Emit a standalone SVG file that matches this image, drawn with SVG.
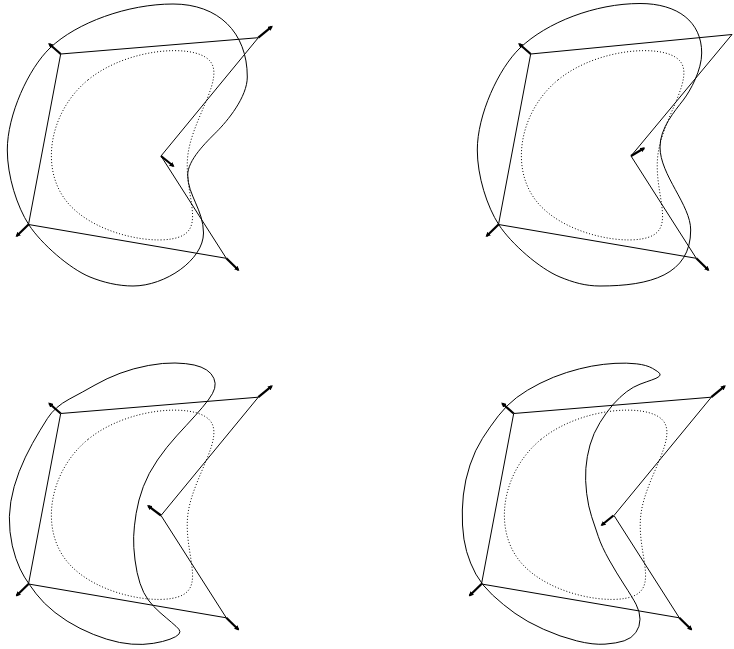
<svg xmlns="http://www.w3.org/2000/svg" width="734" height="649" viewBox="0 0 734 649">
<style>
.poly{fill:none;stroke:#000;stroke-width:1;stroke-linejoin:miter}
.curve{fill:none;stroke:#000;stroke-width:1}
.dot{fill:none;stroke:#000;stroke-width:1;stroke-dasharray:1 2}
.vec{stroke:#000;stroke-width:2.2;marker-end:url(#ah)}
</style>
<defs>
<marker id="ah" viewBox="0 0 5 5" markerWidth="5" markerHeight="5" refX="3.5" refY="2.5" orient="auto" markerUnits="userSpaceOnUse">
<path d="M0,0 L5,2.5 L0,5 Z" fill="#000"/>
</marker>
<path id="bspline" d="M88.27,79.7 C126.57,48.57 192.43,43.13 209.15,60.13 C225.87,77.13 193.43,116.57 188.1,153.33 C182.77,190.1 204.53,224.2 182.45,235.62 C160.37,247.03 94.43,235.77 66.83,201.72 C39.23,167.67 49.97,110.83 88.27,79.7 Z"/>
<polygon id="ctrl" points="60.7,54 258.3,37.7 161,156 226.3,258.3 28.5,224.5"/>
</defs>

<g id="panel1">
<g id="panel1-curves">
<use href="#bspline" class="dot"/>
<path class="curve" d="M50,48 C76.6,22.5 128,4 173,4 C218,4 247.3,32 247.3,77 C247.3,97 227.3,121.1 216.7,131.7 C206.1,142.3 187.7,160 187.7,175 C187.7,195 203.5,210 203.5,233 C203.5,260 165,286 133,286 C118,286 103,282.3 90,277 C69.6,268.7 41,243.4 29,225 C17,206.6 7.3,176 7.3,150 C7.3,115 28.4,68.7 50,48 Z"/>
</g>
<g id="panel1-connectors">
<use href="#ctrl" class="poly"/>
<line class="vec" x1="60.7" y1="54" x2="49.3" y2="44"/>
<line class="vec" x1="258.3" y1="37.7" x2="271.7" y2="26.7"/>
<line class="vec" x1="161" y1="156" x2="173.3" y2="166"/>
<line class="vec" x1="226.3" y1="258.3" x2="238.3" y2="270"/>
<line class="vec" x1="28.5" y1="224.5" x2="16.7" y2="236"/>
</g>
</g>

<g id="panel2" transform="translate(470,0)">
<g id="panel2-curves">
<use href="#bspline" class="dot"/>
<path class="curve" d="M50,48 C76.6,22.5 125,3.5 170,3.5 C208,3.5 231.7,22 231.7,53 C231.7,70 220.6,90.5 213.3,100 C204.8,111.1 190,128 190,147 C190,175 220.7,205 220.7,230 C220.7,275 180,286 130,286 C115,286 103,282.3 90,277 C69.6,268.7 41,243.4 29,225 C17,206.6 7.3,176 7.3,150 C7.3,115 28.4,68.7 50,48 Z"/>
</g>
<g id="panel2-connectors">
<polygon class="poly" points="60.7,54 262,34.5 161,156 226.3,258.3 28.5,224.5"/>
<line class="vec" x1="60.7" y1="54" x2="49.3" y2="44"/>
<line class="vec" x1="161" y1="156" x2="174" y2="148.3"/>
<line class="vec" x1="226.3" y1="258.3" x2="238.3" y2="270"/>
<line class="vec" x1="28.5" y1="224.5" x2="16.7" y2="236"/>
</g>
</g>

<g id="panel3" transform="translate(0,359.5)">
<g id="panel3-curves">
<use href="#bspline" class="dot"/>
<path class="curve" transform="translate(0,-19.5)" d="M175,23 Q163.3,22.7 148.3,25.5 Q133.3,28.3 120,33.3 Q106.7,38.3 95,45 Q83.3,51.7 69.15,59.2 Q55,66.7 47.5,78.35 Q40,90 32.5,103.35 Q25,116.7 19.15,131.7 Q13.3,146.7 10.8,161.7 Q8.3,176.7 10,191.7 Q11.7,206.7 15.85,218.35 Q20,230 24.5,237.15 Q29,244.3 36.15,253.8 Q43.3,263.3 55,272.5 Q66.7,281.7 80,288.35 Q93.3,295 106.65,299.15 Q120,303.3 131.65,304.15 Q143.3,305 153.3,303.35 Q163.3,301.7 170,299.2 Q176.7,296.7 178.85,294.2 Q181,291.7 178.85,289.2 Q176.7,286.7 171.7,282.5 Q166.7,278.3 160,272.5 Q153.3,266.7 148.3,260 Q143.3,253.3 140,243.3 Q136.7,233.3 135,220 Q133.3,206.7 133.65,196.7 Q134,186.7 136.15,173.35 Q138.3,160 143.3,146.65 Q148.3,133.3 157.5,120 Q166.7,106.7 176.7,95.85 Q186.7,85 195,75.85 Q203.3,66.7 208.3,60 Q213.3,53.3 214.65,48.3 Q216,43.3 213.85,38.3 Q211.7,33.3 206.7,30 Q201.7,26.7 194.2,25 Q186.7,23.3 175,23 Z"/>
</g>
<g id="panel3-connectors">
<use href="#ctrl" class="poly"/>
<line class="vec" x1="60.7" y1="54" x2="49.3" y2="44"/>
<line class="vec" x1="258.3" y1="37.7" x2="271.7" y2="26.7"/>
<line class="vec" x1="161" y1="156" x2="148.3" y2="146.5"/>
<line class="vec" x1="226.3" y1="258.3" x2="238.3" y2="270"/>
<line class="vec" x1="28.5" y1="224.5" x2="16.7" y2="236"/>
</g>
</g>

<g id="panel4" transform="translate(453,359.5)">
<g id="panel4-curves">
<use href="#bspline" class="dot"/>
<path class="curve" transform="translate(7,-19.5)" d="M155,23.35 Q166.7,22.7 176.7,23.85 Q186.7,25 192.5,28.35 Q198.3,31.7 199.65,33.35 Q201,35 198.85,36.65 Q196.7,38.3 191.7,40 Q186.7,41.7 180,44.2 Q173.3,46.7 166.65,51.7 Q160,56.7 153.35,64.2 Q146.7,71.7 140,82.5 Q133.3,93.3 130,105 Q126.7,116.7 125.85,128.35 Q125,140 126.65,153.35 Q128.3,166.7 131.65,176.7 Q135,186.7 138.35,196.7 Q141.7,206.7 149.2,220 Q156.7,233.3 164.35,245 Q172,256.7 176,264.2 Q180,271.7 180,279.2 Q180,286.7 175.85,292.5 Q171.7,298.3 164.2,300.8 Q156.7,303.3 145,304.15 Q133.3,305 116.65,300.85 Q100,296.7 83.35,289.2 Q66.7,281.7 55,273.35 Q43.3,265 32.5,255 Q21.7,245 15.85,234.15 Q10,223.3 6.65,211.65 Q3.3,200 2.5,185 Q1.7,170 3.35,155 Q5,140 10,125 Q15,110 22.5,98.35 Q30,86.7 38.35,75.85 Q46.7,65 56.7,57.5 Q66.7,50 80,43.35 Q93.3,36.7 106.65,32.5 Q120,28.3 131.65,26.15 Q143.3,24 155,23.35 Z"/>
</g>
<g id="panel4-connectors">
<use href="#ctrl" class="poly"/>
<line class="vec" x1="60.7" y1="54" x2="49.3" y2="44"/>
<line class="vec" x1="258.3" y1="37.7" x2="271.7" y2="26.7"/>
<line class="vec" x1="160.5" y1="156" x2="148.8" y2="165.5"/>
<line class="vec" x1="226.3" y1="258.3" x2="238.3" y2="270"/>
<line class="vec" x1="28.5" y1="224.5" x2="16.7" y2="236"/>
</g>
</g>
</svg>
